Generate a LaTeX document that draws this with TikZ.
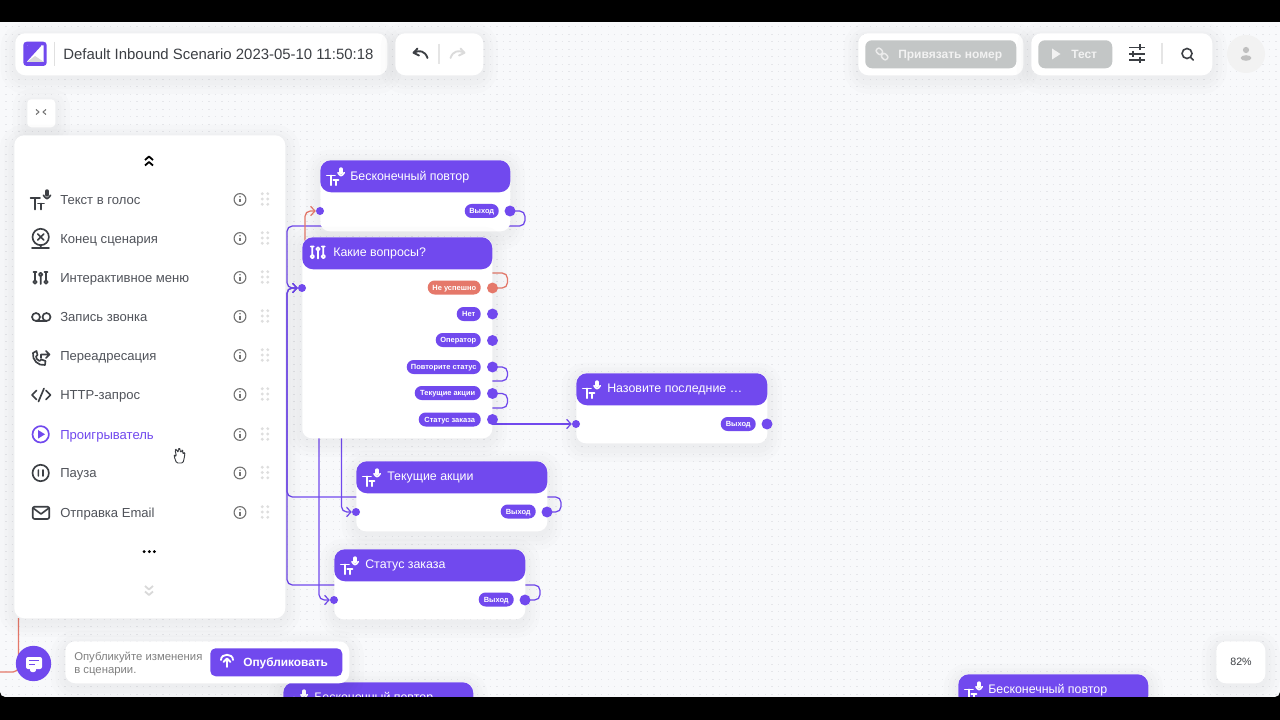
\documentclass[tikz,border=0pt]{standalone}
\usepackage{fontspec}
\setmainfont{Liberation Sans}
\usetikzlibrary{arrows.meta}
\pgfdeclarelayer{bgl}\pgfdeclarelayer{conn}\pgfsetlayers{bgl,conn,main}
\definecolor{pur}{HTML}{7149EE}
\definecolor{red1}{HTML}{E5786A}
\definecolor{ink}{HTML}{3C3F44}
\definecolor{lab}{HTML}{50535A}
\definecolor{grb}{HTML}{C3C6C6}
\definecolor{bgc}{HTML}{F8F9FB}
\definecolor{dotc}{HTML}{E5E6EA}
\newcommand\fs[1]{\fontsize{#1}{#1}\selectfont}
\tikzset{
 softshadow/.style={
  preaction={draw=black,draw opacity=.010,line width=22pt,transform canvas={yshift=-3pt}},
  preaction={draw=black,draw opacity=.010,line width=15pt,transform canvas={yshift=-3pt}},
  preaction={draw=black,draw opacity=.010,line width=9pt,transform canvas={yshift=-3pt}},
  preaction={draw=black,draw opacity=.008,line width=4pt,transform canvas={yshift=-2pt}}},
 box/.style args={#1x#2}{minimum width=#1*.75pt,minimum height=#2*.75pt,inner sep=0pt,anchor=north west},
 card/.style={box=#1,fill=white,rounded corners=7.5pt,softshadow},
 nodecard/.style={box=#1,fill=white,rounded corners=7pt,softshadow},
 head/.style={box=#1,fill=pur,rounded corners=8pt},
 txtf/.style={font=\fs{#1},text height=#1*.72pt,text depth=0pt,inner sep=0pt,anchor=west},
 txtb/.style={font=\fs{#1}\bfseries,text height=#1*.72pt,text depth=0pt,inner sep=0pt,anchor=west},
 headtxt/.style={text=white,txtf=9.3},
 pill/.style={fill=pur,text=white,font=\fs{5.6}\bfseries,text height=4pt,text depth=0pt,rounded corners=5.2pt,minimum height=10.5pt,minimum width=#1*.75pt,inner sep=0pt,anchor=east},
 pdot/.style={circle,fill=pur,minimum size=8.2pt,inner sep=0pt},
 indot/.style={circle,fill=pur,minimum size=6pt,inner sep=0pt},
 wire/.style={draw=pur,line width=.95pt,rounded corners=4pt},
 tip/.style={-{Straight Barb[length=3.2pt,width=7pt,line width=.9pt]}},
 rowtxt/.style={text=lab,txtf=9.8},
 ico/.style={line width=1.25pt,line cap=round,line join=round},
 ttmic/.pic={
  \draw[ico] (-9.4,-.7) -- (0,-.7) (-4.9,-.7) -- (-4.9,10.5);
  \draw[ico] (-2,4.5) -- (4,4.5) (1.2,4.5) -- (1.2,10.5);
  \draw[ico,line width=2.6pt] (7,-8) -- (7,-4);
  \draw[ico] (3.4,-3.8) .. controls (4.4,-1.5) and (6,-1) .. (7,-.4) .. controls (8,-1) and (9.6,-1.5) .. (10.6,-3.8);
 },
 sliders/.pic={
  \draw[ico] (-5.7,-6) -- (-5.7,1.8) (5.3,-6) -- (5.3,1.8) (0,-1) -- (0,6) (-5.7,4) circle (1.8) (5.3,4) circle (1.8) (0,-3.5) circle (1.8) (-7.2,-6) -- (-4.2,-6) (3.8,-6) -- (6.8,-6);
 },
 info/.pic={
  \draw[draw=black!55,line width=.85pt] (0,0) circle (5.9);
  \fill[black!55] (0,-2.7) circle (.85);
  \draw[draw=black!55,line width=1pt] (0,-.8) -- (0,3);
 },
 grip/.pic={
  \foreach \a in {-2.8,2.8} \foreach \b in {-5.3,0,5.3} \fill[black!13] (\a,\b) circle (1.6);
 },
}
\begin{document}
\begin{tikzpicture}[x=.75pt,y=-.75pt]
\useasboundingbox (0,0) rectangle (1280,720);
\begin{pgfonlayer}{bgl}
\fill[black] (0,0) rectangle (1280,720);
\fill[bgc,rounded corners=4pt] (0,15) rectangle (1280,697);
\foreach \r in {0,...,89}
 \draw[dotc,line width=.95pt,dash pattern=on .95pt off 3.96pt] (-1.2,26.7+7.5*\r) -- (1281,26.7+7.5*\r);
\end{pgfonlayer}

% ---- top bar
\node[card=372x42] (topcard) at (15,33) {};
\fill[pur,rounded corners=2.5pt] (23.3,41.7) rectangle (46.7,66);
\fill[white] (27,45.5) -- (43.5,45.5) -- (43.5,62) -- (35,57.5) -- (27,62) -- cycle;
\fill[pur,rounded corners=1pt] (26.5,45) -- (42,45) -- (31,57) -- (26.5,62) -- cycle;
\fill[black!15] (27,62) -- (35,56) -- (44,62) -- cycle;
\draw[black!12,line width=.8pt] (54.5,42) -- (54.5,66);
\node[text=ink,txtf=11.2] (title) at (63,54) {Default Inbound Scenario 2023-05-10 11:50:18};
\node[card=88x42] (undocard) at (395,33) {};
\draw[ink,line width=1.4pt,line cap=round,line join=round] (427.5,58) .. controls (425,50.5) and (419,50) .. (414,52.5);
\draw[ink,line width=1.4pt,line cap=round,line join=round] (417.5,48.5) -- (413.5,52.8) -- (419,55.5);
\draw[black!14,line width=1.4pt,line cap=round,line join=round] (450.5,58) .. controls (453,50.5) and (459,50) .. (464,52.5);
\draw[black!14,line width=1.4pt,line cap=round,line join=round] (460.5,48.5) -- (464.5,52.8) -- (459,55.5);
\draw[black!10,line width=.8pt] (439,44) -- (439,64);
\node[card=165x42] (bindcard) at (858,33) {};
\node[box=151x28,fill=grb,rounded corners=5pt,] (bindbtn) at (865,40) {};
\draw[white!92!black,line width=1.1pt,rotate around={-45:(882,54)},rounded corners=1.5pt] (875,51.5) rectangle (881.5,56.5) (882.5,51.5) rectangle (889,56.5);
\node[text=white!95!black,txtb=9] (bindtxt) at (898,54) {Привязать номер};
\node[card=181x42] (testcard) at (1031,33) {};
\node[box=74x28,fill=grb,rounded corners=5pt] (testbtn) at (1038,40) {};
\fill[white!95!black] (1052,48.5) -- (1060.5,54) -- (1052,59.5) -- cycle;
\node[text=white!95!black,txtb=9] (testtxt) at (1071,54) {Тест};
\draw[ink,line width=1.1pt] (1129,47.5) -- (1145,47.5) (1129,54) -- (1145,54) (1129,60) -- (1145,60);
\draw[ink,line width=1.5pt] (1140,44.5) -- (1140,50) (1133,51) -- (1133,57) (1140,57) -- (1140,63);
\draw[ink,line width=1.2pt,line cap=round] (1187,53.5) circle (5) (1190.6,57.3) -- (1193.2,60);
\draw[black!10,line width=.8pt] (1162,43) -- (1162,64);
\node[circle,fill=black!5,minimum size=28.5pt,inner sep=0pt] (avatar) at (1246,54) {};
\fill[black!25] (1246,50) circle (3.1) (1246,58) ellipse (5.4 and 2.8);

% ---- toggle
\node[box=28x28,fill=white,rounded corners=3pt,softshadow] (toggle) at (27,99) {};
\draw[black!55,line width=.8pt,line join=round] (36,109.5) -- (39,112) -- (36,114.5) (46,109.5) -- (43,112) -- (46,114.5);

% ---- left panel
\node[card=271x483] (panel) at (14,135) {};
\draw[black,line width=1.35pt,line join=round] (145,160) -- (149,156.5) -- (153,160) (145,165.5) -- (149,162) -- (153,165.5);
\draw[black!15,line width=1.35pt,line join=round] (145,586) -- (149,589.5) -- (153,586) (145,591.5) -- (149,595) -- (153,591.5);
\fill[black] (144.2,551.6) circle (1.6) (149.3,551.6) circle (1.6) (154.4,551.6) circle (1.6);

\node[rowtxt] (r1) at (60,199.5) {Текст в голос};
\node[rowtxt] (r2) at (60,238.5) {Конец сценария};
\node[rowtxt] (r3) at (60,277.5) {Интерактивное меню};
\node[rowtxt] (r4) at (60,316.5) {Запись звонка};
\node[rowtxt] (r5) at (60,355.5) {Переадресация};
\node[rowtxt] (r6) at (60,394.5) {HTTP-запрос};
\node[rowtxt,text=pur] (r7) at (60,434.5) {Проигрыватель};
\node[rowtxt] (r8) at (60,473) {Пауза};
\node[rowtxt] (r9) at (60,512.5) {Отправка Email};
\foreach \y in {199.5,238.5,277.5,316.5,355.5,394.5,434.5,473,512.5} {
 \pic at (240,\y) {info};
 \pic at (265,\y-.5) {grip};
}
% row icons
\pic[color=ink] at (40,199) {ttmic};
\draw[ink,ico] (40.7,237) circle (8.2) (37.7,234) -- (43.7,240) (43.7,234) -- (37.7,240) (32,248) -- (49,248) (40.7,245) -- (40.7,248);
\pic[color=ink] at (40.7,278) {sliders};
\draw[ink,ico] (36,317) circle (4) (46.5,317) circle (4) (36,321) -- (46.5,321);
\draw[ink,ico] (33,353) .. controls (32,360) and (38,366) .. (45,365) -- (45.5,361) -- (41.5,359.5) -- (39.5,361) .. controls (37,360) and (36,358) .. (36,356.5) -- (37.5,355) -- (36.5,351) -- cycle;
\draw[ink,ico] (41,358) -- (41,354.5) -- (49.5,354.5) (46,351) -- (49.5,354.5) -- (46,358);
\draw[ink,ico] (36.5,390.5) -- (32,395) -- (36.5,399.5) (44,388.5) -- (38.5,401.5) (46,390.5) -- (50.5,395) -- (46,399.5);
\draw[pur,ico] (40.7,434.3) circle (8.2);
\fill[pur] (38,430) -- (45,434.3) -- (38,438.6) -- cycle;
\draw[ink,ico] (40.7,473) circle (8.2) (38.4,470) -- (38.4,476) (43,470) -- (43,476);
\draw[ink,ico,rounded corners=1.5pt] (32.7,506.7) rectangle (49.3,519);
\draw[ink,ico] (33,508) -- (41,514) -- (49,508);
% cursor
\draw[ink,fill=white,line width=.7pt,line join=round,rounded corners=1pt] (176.5,463) -- (174,456) -- (175,455) -- (176.5,456.5) -- (175,450) -- (176.5,449) -- (178,453) -- (178.5,448.5) -- (180,448.5) -- (180.5,453) -- (182,450) -- (183,451) -- (182.5,454) -- (184,452.5) -- (185,453.5) -- (184,459) -- (183,463) -- cycle;

% ---- scenario cards
\node[nodecard=190x71] (bcard) at (320,160) {};
\node[head=190x32] (bhead) at (320,160) {};
\pic[color=white,scale=.87] at (335,176) {ttmic};
\node[headtxt] (btxt) at (350,176) {Бесконечный повтор};
\node[indot] (bin) at (320,211) {};
\node[pill=34] (bpill) at (499,211) {Выход};
\node[pdot] (bout) at (510,211) {};

\node[nodecard=190x201] (qcard) at (302,237) {};
\node[head=190x32] (qhead) at (302,237) {};
\pic[color=white] at (318,252.5) {sliders};
\node[headtxt] (qtxt) at (333,252.5) {Какие вопросы?};
\node[indot] (qin) at (302,288) {};
\node[pill=53,fill=red1] (p1) at (481,287.5) {Не успешно};
\node[pill=24] (p2) at (481,314) {Нет};
\node[pill=45] (p3) at (481,340) {Оператор};
\node[pill=74] (p4) at (481,367) {Повторите статус};
\node[pill=66] (p5) at (481,393) {Текущие акции};
\node[pill=62] (p6) at (481,419.5) {Статус заказа};
\node[pdot,fill=red1] (qerr) at (492.5,288) {};
\node[pdot] (qno) at (492.5,314) {};
\node[pdot] (qop) at (492.5,340.5) {};
\node[pdot] (qrep) at (492.5,367) {};
\node[pdot] (qcur) at (492.5,393.5) {};
\node[pdot] (qord) at (492.5,419.5) {};

\node[nodecard=191x70] (ncard) at (576,373) {};
\node[head=191x32] (nhead) at (576,373) {};
\pic[color=white,scale=.87] at (591,389) {ttmic};
\node[headtxt] (ntxt) at (607,388.5) {Назовите последние …};
\node[indot] (nin) at (576,424) {};
\node[pill=35] (npill) at (756,424) {Выход};
\node[pdot] (nout) at (767,424) {};

\node[nodecard=191x70] (acard) at (356,461) {};
\node[head=191x32] (ahead) at (356,461) {};
\pic[color=white,scale=.87] at (371,477) {ttmic};
\node[headtxt] (atxt) at (387,476.5) {Текущие акции};
\node[indot] (ain) at (356,512) {};
\node[pill=35] (apill) at (536,511.5) {Выход};
\node[pdot] (aout) at (547,512) {};

\node[nodecard=191x70] (scard) at (334,549) {};
\node[head=191x32] (shead) at (334,549) {};
\pic[color=white,scale=.87] at (349,565) {ttmic};
\node[headtxt] (stxt) at (365,564.5) {Статус заказа};
\node[indot] (sin) at (334,600) {};
\node[pill=35] (spill) at (514,599.5) {Выход};
\node[pdot] (sout) at (525,600) {};

% ---- partly hidden cards
\node[nodecard=190x40] (xcard) at (283,682) {};
\node[head=190x32] (xhead) at (283,682) {};
\pic[color=white,scale=.87] at (298,698) {ttmic};
\node[headtxt] (xtxt) at (314,697) {Бесконечный повтор};
\node[nodecard=190x40] (ycard) at (958,674) {};
\node[head=190x32] (yhead) at (958,674) {};
\pic[color=white,scale=.87] at (973,690) {ttmic};
\node[headtxt] (ytxt) at (988,689) {Бесконечный повтор};

% ---- bottom left
\node[card=284x42] (pubcard) at (65,641) {};
\node[text=black!50,txtf=8.5] (pub1) at (74,656) {Опубликуйте изменения};
\node[text=black!50,txtf=8.5] (pub2) at (74,669) {в сценарии.};
\node[box=132x28,fill=pur,rounded corners=4pt] (pubbtn) at (210,648) {};
\draw[white,line width=1.4pt,line cap=round] (221,660) .. controls (221,653) and (233,653) .. (233,660);
\draw[white,line width=1.4pt,line cap=round,line join=round] (227,667) -- (227,660) (223.5,662) -- (227,658.5) -- (230.5,662);
\node[text=white,txtb=8.9] (pubtxt) at (243,662) {Опубликовать};
\node[circle,fill=pur,minimum size=26.5pt,inner sep=0pt] (chat) at (33.5,663.5) {};
\fill[white,rounded corners=1.5pt] (26,657) rectangle (42,669) (30,668) rectangle (36,672);
\draw[pur,line width=1.1pt] (29,660.5) -- (39,660.5) (29,664.5) -- (35,664.5);

\node[box=49x42,fill=white,rounded corners=7pt,softshadow] (zoomcard) at (1216,641) {};
\node[text=ink,font=\fs{8},inner sep=0pt] (zoomtxt) at (1241,662) {82\%};

% ---- black bars over everything
\fill[black] (0,0) rectangle (1280,22);
\fill[black] (0,697) rectangle (1280,720);

% ---- connectors
\coordinate (tT) at (287,226);
\coordinate (tA) at (287,497);
\coordinate (tS) at (287,585);
\coordinate (vR) at (305,273);
\coordinate (vS) at (319,381);
\coordinate (vA) at (341.5,408);
\coordinate (redA) at (18.5,618);
\coordinate (redB) at (18.5,672);
\coordinate (redC) at (0,672);
\begin{pgfonlayer}{conn}
\draw[wire,tip] (bout.center) -- ++(15,0) |- (tT) |- (qin.west);
\draw[wire,tip] (aout.center) -- ++(14,0) |- (tA) |- (qin.west);
\draw[wire,tip] (sout.center) -- ++(15,0) |- (tS) |- (qin.west);
\draw[wire,tip,draw=red1] (qerr.center) -- ++(15,0) |- (vR) |- (bin.west);
\draw[wire,tip] (qrep.center) -- ++(15,0) |- (vS) |- (sin.west);
\draw[wire,tip] (qcur.center) -- ++(15,0) |- (vA) |- (ain.west);
\draw[wire,tip,rounded corners=0pt] (qord.center) |- (nin.west);
\draw[wire,draw=red1] (redA) -- (redB) -- (redC);
\end{pgfonlayer}
\end{tikzpicture}
\end{document}
